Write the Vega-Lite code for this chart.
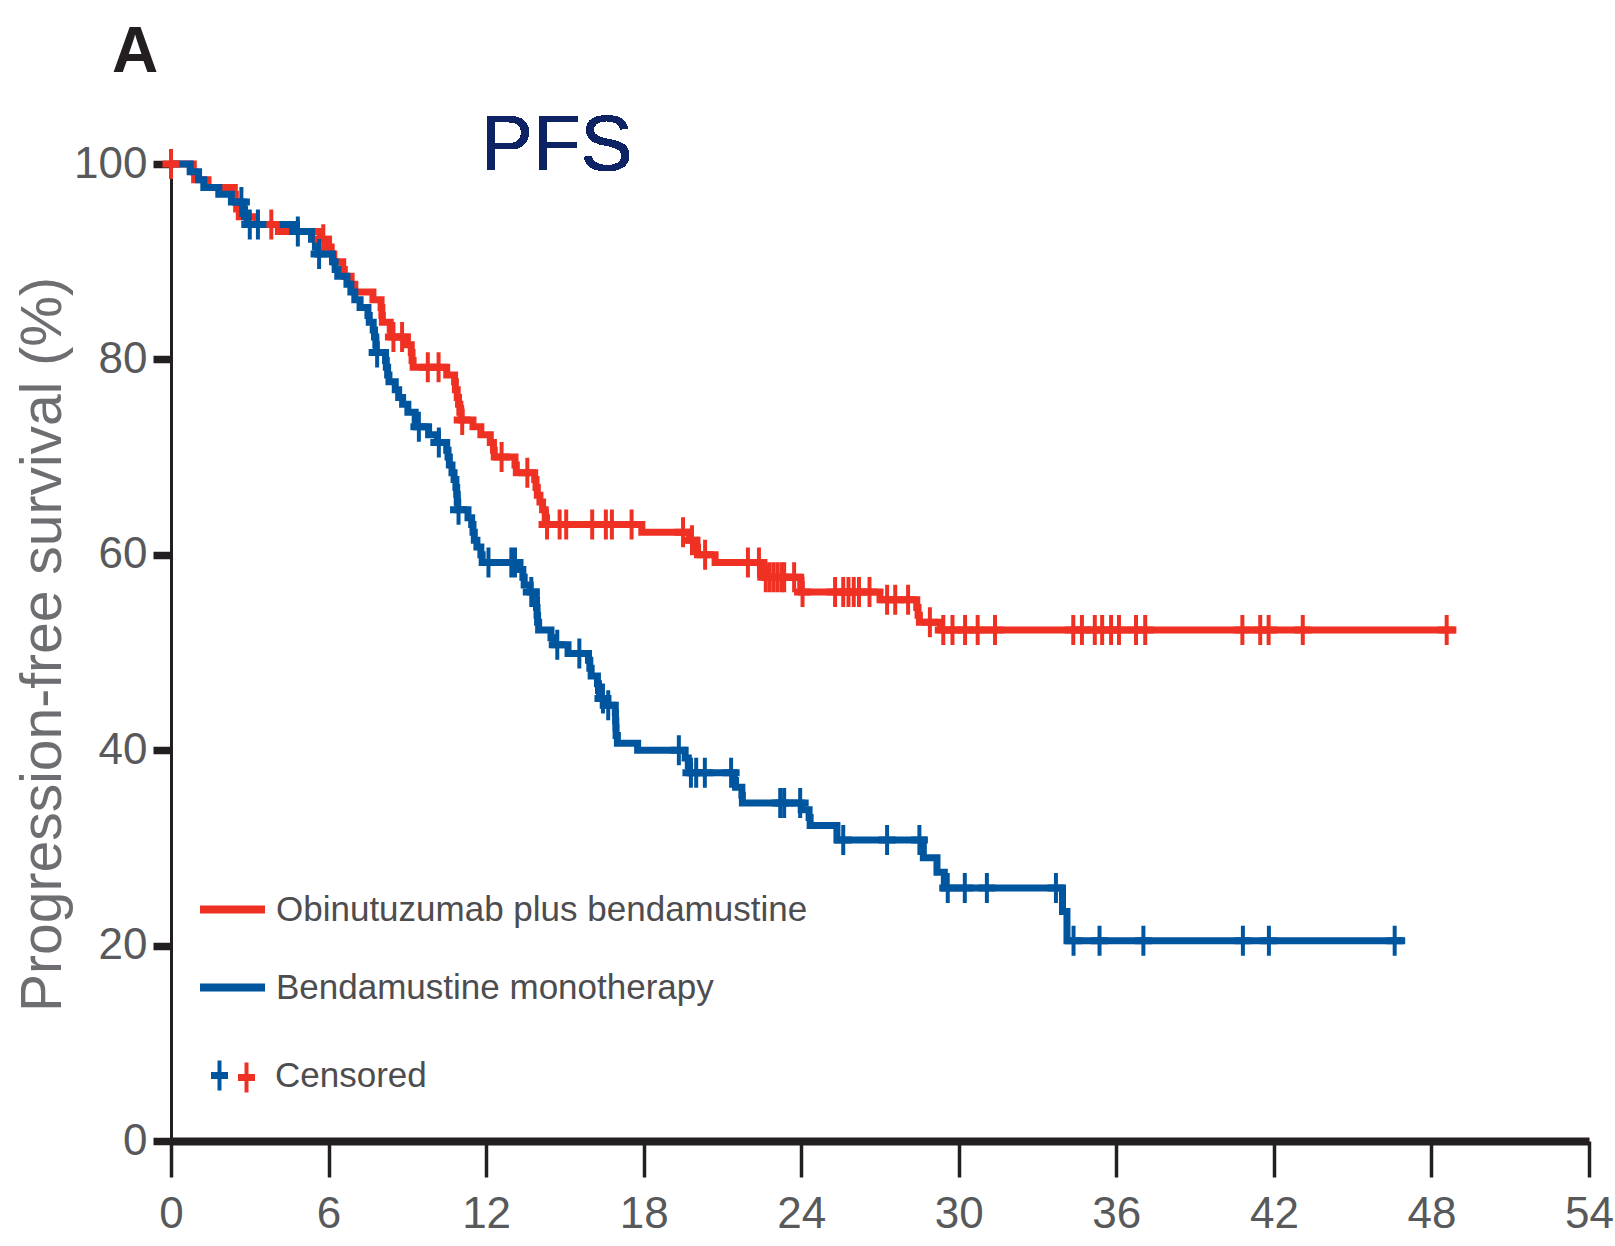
{
  "$schema": "https://vega.github.io/schema/vega-lite/v6.json",
  "width": 1418,
  "height": 977,
  "autosize": {"type": "none"},
  "padding": {"left": 171, "top": 164, "right": 26, "bottom": 105},
  "background": "white",
  "config": {"view": {"stroke": null}},
  "title": {
    "text": "A",
    "anchor": "start",
    "frame": "group",
    "dx": -59,
    "offset": 23,
    "font": "Liberation Sans, sans-serif",
    "fontSize": 64,
    "fontWeight": "bold",
    "color": "#231f20"
  },
  "data": {
    "values": [
      {"arm": "Obinutuzumab plus bendamustine", "kind": "step", "t": 0, "s": 100},
      {"arm": "Obinutuzumab plus bendamustine", "kind": "step", "t": 0.85, "s": 99.2},
      {"arm": "Obinutuzumab plus bendamustine", "kind": "step", "t": 0.9, "s": 98.4},
      {"arm": "Obinutuzumab plus bendamustine", "kind": "step", "t": 1.41, "s": 97.6},
      {"arm": "Obinutuzumab plus bendamustine", "kind": "step", "t": 2.41, "s": 96.9},
      {"arm": "Obinutuzumab plus bendamustine", "kind": "step", "t": 2.45, "s": 96.1},
      {"arm": "Obinutuzumab plus bendamustine", "kind": "step", "t": 2.5, "s": 95.4},
      {"arm": "Obinutuzumab plus bendamustine", "kind": "step", "t": 2.6, "s": 94.6},
      {"arm": "Obinutuzumab plus bendamustine", "kind": "step", "t": 3.24, "s": 93.8},
      {"arm": "Obinutuzumab plus bendamustine", "kind": "step", "t": 4.09, "s": 93.1},
      {"arm": "Obinutuzumab plus bendamustine", "kind": "step", "t": 5.7, "s": 92.3},
      {"arm": "Obinutuzumab plus bendamustine", "kind": "step", "t": 6.0, "s": 91.5},
      {"arm": "Obinutuzumab plus bendamustine", "kind": "step", "t": 6.1, "s": 90.8},
      {"arm": "Obinutuzumab plus bendamustine", "kind": "step", "t": 6.2, "s": 90.0},
      {"arm": "Obinutuzumab plus bendamustine", "kind": "step", "t": 6.54, "s": 89.2},
      {"arm": "Obinutuzumab plus bendamustine", "kind": "step", "t": 6.6, "s": 88.5},
      {"arm": "Obinutuzumab plus bendamustine", "kind": "step", "t": 6.86, "s": 87.7},
      {"arm": "Obinutuzumab plus bendamustine", "kind": "step", "t": 7.0, "s": 86.9},
      {"arm": "Obinutuzumab plus bendamustine", "kind": "step", "t": 7.69, "s": 86.1},
      {"arm": "Obinutuzumab plus bendamustine", "kind": "step", "t": 8.0, "s": 85.3},
      {"arm": "Obinutuzumab plus bendamustine", "kind": "step", "t": 8.03, "s": 84.5},
      {"arm": "Obinutuzumab plus bendamustine", "kind": "step", "t": 8.05, "s": 83.8},
      {"arm": "Obinutuzumab plus bendamustine", "kind": "step", "t": 8.35, "s": 83.0},
      {"arm": "Obinutuzumab plus bendamustine", "kind": "step", "t": 8.4, "s": 82.3},
      {"arm": "Obinutuzumab plus bendamustine", "kind": "step", "t": 9.0, "s": 81.5},
      {"arm": "Obinutuzumab plus bendamustine", "kind": "step", "t": 9.15, "s": 80.7},
      {"arm": "Obinutuzumab plus bendamustine", "kind": "step", "t": 9.18, "s": 79.9},
      {"arm": "Obinutuzumab plus bendamustine", "kind": "step", "t": 9.22, "s": 79.2},
      {"arm": "Obinutuzumab plus bendamustine", "kind": "step", "t": 10.5, "s": 78.4},
      {"arm": "Obinutuzumab plus bendamustine", "kind": "step", "t": 10.8, "s": 77.7},
      {"arm": "Obinutuzumab plus bendamustine", "kind": "step", "t": 10.83, "s": 76.9},
      {"arm": "Obinutuzumab plus bendamustine", "kind": "step", "t": 10.9, "s": 76.1},
      {"arm": "Obinutuzumab plus bendamustine", "kind": "step", "t": 10.95, "s": 75.4},
      {"arm": "Obinutuzumab plus bendamustine", "kind": "step", "t": 11.0, "s": 74.6},
      {"arm": "Obinutuzumab plus bendamustine", "kind": "step", "t": 11.05, "s": 73.8},
      {"arm": "Obinutuzumab plus bendamustine", "kind": "step", "t": 11.5, "s": 73.1},
      {"arm": "Obinutuzumab plus bendamustine", "kind": "step", "t": 11.8, "s": 72.3},
      {"arm": "Obinutuzumab plus bendamustine", "kind": "step", "t": 12.16, "s": 71.5},
      {"arm": "Obinutuzumab plus bendamustine", "kind": "step", "t": 12.28, "s": 70.7},
      {"arm": "Obinutuzumab plus bendamustine", "kind": "step", "t": 12.31, "s": 70.0},
      {"arm": "Obinutuzumab plus bendamustine", "kind": "step", "t": 13.1, "s": 69.2},
      {"arm": "Obinutuzumab plus bendamustine", "kind": "step", "t": 13.15, "s": 68.4},
      {"arm": "Obinutuzumab plus bendamustine", "kind": "step", "t": 13.85, "s": 67.7},
      {"arm": "Obinutuzumab plus bendamustine", "kind": "step", "t": 13.9, "s": 66.9},
      {"arm": "Obinutuzumab plus bendamustine", "kind": "step", "t": 13.95, "s": 66.1},
      {"arm": "Obinutuzumab plus bendamustine", "kind": "step", "t": 14.05, "s": 65.4},
      {"arm": "Obinutuzumab plus bendamustine", "kind": "step", "t": 14.15, "s": 64.6},
      {"arm": "Obinutuzumab plus bendamustine", "kind": "step", "t": 14.25, "s": 63.8},
      {"arm": "Obinutuzumab plus bendamustine", "kind": "step", "t": 14.3, "s": 63.1},
      {"arm": "Obinutuzumab plus bendamustine", "kind": "step", "t": 17.93, "s": 62.3},
      {"arm": "Obinutuzumab plus bendamustine", "kind": "step", "t": 19.75, "s": 61.5},
      {"arm": "Obinutuzumab plus bendamustine", "kind": "step", "t": 20.0, "s": 60.8},
      {"arm": "Obinutuzumab plus bendamustine", "kind": "step", "t": 20.05, "s": 60.0},
      {"arm": "Obinutuzumab plus bendamustine", "kind": "step", "t": 20.72, "s": 59.2},
      {"arm": "Obinutuzumab plus bendamustine", "kind": "step", "t": 22.55, "s": 58.5},
      {"arm": "Obinutuzumab plus bendamustine", "kind": "step", "t": 22.6, "s": 57.7},
      {"arm": "Obinutuzumab plus bendamustine", "kind": "step", "t": 23.98, "s": 56.9},
      {"arm": "Obinutuzumab plus bendamustine", "kind": "step", "t": 24.0, "s": 56.2},
      {"arm": "Obinutuzumab plus bendamustine", "kind": "step", "t": 27.0, "s": 55.4},
      {"arm": "Obinutuzumab plus bendamustine", "kind": "step", "t": 28.4, "s": 54.6},
      {"arm": "Obinutuzumab plus bendamustine", "kind": "step", "t": 28.45, "s": 53.8},
      {"arm": "Obinutuzumab plus bendamustine", "kind": "step", "t": 28.5, "s": 53.1},
      {"arm": "Obinutuzumab plus bendamustine", "kind": "step", "t": 29.3, "s": 52.3},
      {"arm": "Obinutuzumab plus bendamustine", "kind": "step", "t": 48.95, "s": 52.3},
      {"arm": "Bendamustine monotherapy", "kind": "step", "t": 0, "s": 100},
      {"arm": "Bendamustine monotherapy", "kind": "step", "t": 0.73, "s": 99.2},
      {"arm": "Bendamustine monotherapy", "kind": "step", "t": 1.05, "s": 98.4},
      {"arm": "Bendamustine monotherapy", "kind": "step", "t": 1.25, "s": 97.6},
      {"arm": "Bendamustine monotherapy", "kind": "step", "t": 1.82, "s": 96.9},
      {"arm": "Bendamustine monotherapy", "kind": "step", "t": 2.3, "s": 96.1},
      {"arm": "Bendamustine monotherapy", "kind": "step", "t": 2.75, "s": 95.4},
      {"arm": "Bendamustine monotherapy", "kind": "step", "t": 2.8, "s": 94.6},
      {"arm": "Bendamustine monotherapy", "kind": "step", "t": 2.9, "s": 93.8},
      {"arm": "Bendamustine monotherapy", "kind": "step", "t": 4.78, "s": 93.1},
      {"arm": "Bendamustine monotherapy", "kind": "step", "t": 5.35, "s": 92.3},
      {"arm": "Bendamustine monotherapy", "kind": "step", "t": 5.5, "s": 91.5},
      {"arm": "Bendamustine monotherapy", "kind": "step", "t": 5.6, "s": 90.8},
      {"arm": "Bendamustine monotherapy", "kind": "step", "t": 6.15, "s": 90.0},
      {"arm": "Bendamustine monotherapy", "kind": "step", "t": 6.25, "s": 89.2},
      {"arm": "Bendamustine monotherapy", "kind": "step", "t": 6.35, "s": 88.5},
      {"arm": "Bendamustine monotherapy", "kind": "step", "t": 6.7, "s": 87.7},
      {"arm": "Bendamustine monotherapy", "kind": "step", "t": 6.85, "s": 86.9},
      {"arm": "Bendamustine monotherapy", "kind": "step", "t": 7.0, "s": 86.1},
      {"arm": "Bendamustine monotherapy", "kind": "step", "t": 7.2, "s": 85.3},
      {"arm": "Bendamustine monotherapy", "kind": "step", "t": 7.5, "s": 84.5},
      {"arm": "Bendamustine monotherapy", "kind": "step", "t": 7.55, "s": 83.8},
      {"arm": "Bendamustine monotherapy", "kind": "step", "t": 7.7, "s": 83.0},
      {"arm": "Bendamustine monotherapy", "kind": "step", "t": 7.75, "s": 82.3},
      {"arm": "Bendamustine monotherapy", "kind": "step", "t": 7.8, "s": 81.5},
      {"arm": "Bendamustine monotherapy", "kind": "step", "t": 7.82, "s": 80.7},
      {"arm": "Bendamustine monotherapy", "kind": "step", "t": 8.17, "s": 79.9},
      {"arm": "Bendamustine monotherapy", "kind": "step", "t": 8.2, "s": 79.2},
      {"arm": "Bendamustine monotherapy", "kind": "step", "t": 8.25, "s": 78.4},
      {"arm": "Bendamustine monotherapy", "kind": "step", "t": 8.3, "s": 77.7},
      {"arm": "Bendamustine monotherapy", "kind": "step", "t": 8.54, "s": 76.9},
      {"arm": "Bendamustine monotherapy", "kind": "step", "t": 8.67, "s": 76.1},
      {"arm": "Bendamustine monotherapy", "kind": "step", "t": 8.82, "s": 75.4},
      {"arm": "Bendamustine monotherapy", "kind": "step", "t": 9.02, "s": 74.6},
      {"arm": "Bendamustine monotherapy", "kind": "step", "t": 9.3, "s": 73.8},
      {"arm": "Bendamustine monotherapy", "kind": "step", "t": 9.35, "s": 73.1},
      {"arm": "Bendamustine monotherapy", "kind": "step", "t": 9.81, "s": 72.3},
      {"arm": "Bendamustine monotherapy", "kind": "step", "t": 10.15, "s": 71.5},
      {"arm": "Bendamustine monotherapy", "kind": "step", "t": 10.5, "s": 70.7},
      {"arm": "Bendamustine monotherapy", "kind": "step", "t": 10.55, "s": 70.0},
      {"arm": "Bendamustine monotherapy", "kind": "step", "t": 10.6, "s": 69.2},
      {"arm": "Bendamustine monotherapy", "kind": "step", "t": 10.7, "s": 68.4},
      {"arm": "Bendamustine monotherapy", "kind": "step", "t": 10.78, "s": 67.7},
      {"arm": "Bendamustine monotherapy", "kind": "step", "t": 10.85, "s": 66.9},
      {"arm": "Bendamustine monotherapy", "kind": "step", "t": 10.88, "s": 66.2},
      {"arm": "Bendamustine monotherapy", "kind": "step", "t": 10.9, "s": 65.4},
      {"arm": "Bendamustine monotherapy", "kind": "step", "t": 10.92, "s": 64.6},
      {"arm": "Bendamustine monotherapy", "kind": "step", "t": 11.31, "s": 63.8},
      {"arm": "Bendamustine monotherapy", "kind": "step", "t": 11.45, "s": 63.1},
      {"arm": "Bendamustine monotherapy", "kind": "step", "t": 11.5, "s": 62.3},
      {"arm": "Bendamustine monotherapy", "kind": "step", "t": 11.55, "s": 61.5},
      {"arm": "Bendamustine monotherapy", "kind": "step", "t": 11.65, "s": 60.8},
      {"arm": "Bendamustine monotherapy", "kind": "step", "t": 11.8, "s": 60.0},
      {"arm": "Bendamustine monotherapy", "kind": "step", "t": 11.85, "s": 59.2},
      {"arm": "Bendamustine monotherapy", "kind": "step", "t": 13.14, "s": 58.5},
      {"arm": "Bendamustine monotherapy", "kind": "step", "t": 13.4, "s": 57.7},
      {"arm": "Bendamustine monotherapy", "kind": "step", "t": 13.45, "s": 56.9},
      {"arm": "Bendamustine monotherapy", "kind": "step", "t": 13.68, "s": 56.2},
      {"arm": "Bendamustine monotherapy", "kind": "step", "t": 13.9, "s": 55.4},
      {"arm": "Bendamustine monotherapy", "kind": "step", "t": 13.92, "s": 54.6},
      {"arm": "Bendamustine monotherapy", "kind": "step", "t": 13.94, "s": 53.8},
      {"arm": "Bendamustine monotherapy", "kind": "step", "t": 13.96, "s": 53.1},
      {"arm": "Bendamustine monotherapy", "kind": "step", "t": 14.0, "s": 52.3},
      {"arm": "Bendamustine monotherapy", "kind": "step", "t": 14.47, "s": 51.5},
      {"arm": "Bendamustine monotherapy", "kind": "step", "t": 14.6, "s": 50.8},
      {"arm": "Bendamustine monotherapy", "kind": "step", "t": 15.12, "s": 49.9},
      {"arm": "Bendamustine monotherapy", "kind": "step", "t": 15.9, "s": 49.2},
      {"arm": "Bendamustine monotherapy", "kind": "step", "t": 15.95, "s": 48.4},
      {"arm": "Bendamustine monotherapy", "kind": "step", "t": 16.0, "s": 47.6},
      {"arm": "Bendamustine monotherapy", "kind": "step", "t": 16.24, "s": 46.8},
      {"arm": "Bendamustine monotherapy", "kind": "step", "t": 16.28, "s": 46.1},
      {"arm": "Bendamustine monotherapy", "kind": "step", "t": 16.32, "s": 45.3},
      {"arm": "Bendamustine monotherapy", "kind": "step", "t": 16.6, "s": 44.6},
      {"arm": "Bendamustine monotherapy", "kind": "step", "t": 16.92, "s": 43.8},
      {"arm": "Bendamustine monotherapy", "kind": "step", "t": 16.93, "s": 43.0},
      {"arm": "Bendamustine monotherapy", "kind": "step", "t": 16.94, "s": 42.3},
      {"arm": "Bendamustine monotherapy", "kind": "step", "t": 16.95, "s": 41.5},
      {"arm": "Bendamustine monotherapy", "kind": "step", "t": 17.0, "s": 40.7},
      {"arm": "Bendamustine monotherapy", "kind": "step", "t": 17.77, "s": 40.0},
      {"arm": "Bendamustine monotherapy", "kind": "step", "t": 19.58, "s": 39.2},
      {"arm": "Bendamustine monotherapy", "kind": "step", "t": 19.7, "s": 38.4},
      {"arm": "Bendamustine monotherapy", "kind": "step", "t": 19.75, "s": 37.7},
      {"arm": "Bendamustine monotherapy", "kind": "step", "t": 21.45, "s": 36.9},
      {"arm": "Bendamustine monotherapy", "kind": "step", "t": 21.5, "s": 36.2},
      {"arm": "Bendamustine monotherapy", "kind": "step", "t": 21.74, "s": 35.4},
      {"arm": "Bendamustine monotherapy", "kind": "step", "t": 21.76, "s": 34.6},
      {"arm": "Bendamustine monotherapy", "kind": "step", "t": 24.0, "s": 33.9},
      {"arm": "Bendamustine monotherapy", "kind": "step", "t": 24.3, "s": 33.1},
      {"arm": "Bendamustine monotherapy", "kind": "step", "t": 24.34, "s": 32.3},
      {"arm": "Bendamustine monotherapy", "kind": "step", "t": 25.36, "s": 30.8},
      {"arm": "Bendamustine monotherapy", "kind": "step", "t": 28.65, "s": 29.0},
      {"arm": "Bendamustine monotherapy", "kind": "step", "t": 29.17, "s": 27.5},
      {"arm": "Bendamustine monotherapy", "kind": "step", "t": 29.45, "s": 25.9},
      {"arm": "Bendamustine monotherapy", "kind": "step", "t": 33.95, "s": 23.5},
      {"arm": "Bendamustine monotherapy", "kind": "step", "t": 34.12, "s": 20.5},
      {"arm": "Bendamustine monotherapy", "kind": "step", "t": 47.0, "s": 20.5},
      {"arm": "Obinutuzumab plus bendamustine", "kind": "censor", "t": 0, "s": 100},
      {"arm": "Obinutuzumab plus bendamustine", "kind": "censor", "t": 3.82, "s": 93.8},
      {"arm": "Obinutuzumab plus bendamustine", "kind": "censor", "t": 5.8, "s": 92.3},
      {"arm": "Obinutuzumab plus bendamustine", "kind": "censor", "t": 8.47, "s": 82.3},
      {"arm": "Obinutuzumab plus bendamustine", "kind": "censor", "t": 8.8, "s": 82.3},
      {"arm": "Obinutuzumab plus bendamustine", "kind": "censor", "t": 9.78, "s": 79.2},
      {"arm": "Obinutuzumab plus bendamustine", "kind": "censor", "t": 10.19, "s": 79.2},
      {"arm": "Obinutuzumab plus bendamustine", "kind": "censor", "t": 11.09, "s": 73.8},
      {"arm": "Obinutuzumab plus bendamustine", "kind": "censor", "t": 12.59, "s": 70.0},
      {"arm": "Obinutuzumab plus bendamustine", "kind": "censor", "t": 13.57, "s": 68.4},
      {"arm": "Obinutuzumab plus bendamustine", "kind": "censor", "t": 14.32, "s": 63.1},
      {"arm": "Obinutuzumab plus bendamustine", "kind": "censor", "t": 14.8, "s": 63.1},
      {"arm": "Obinutuzumab plus bendamustine", "kind": "censor", "t": 15.05, "s": 63.1},
      {"arm": "Obinutuzumab plus bendamustine", "kind": "censor", "t": 16.04, "s": 63.1},
      {"arm": "Obinutuzumab plus bendamustine", "kind": "censor", "t": 16.56, "s": 63.1},
      {"arm": "Obinutuzumab plus bendamustine", "kind": "censor", "t": 16.79, "s": 63.1},
      {"arm": "Obinutuzumab plus bendamustine", "kind": "censor", "t": 17.54, "s": 63.1},
      {"arm": "Obinutuzumab plus bendamustine", "kind": "censor", "t": 19.5, "s": 62.3},
      {"arm": "Obinutuzumab plus bendamustine", "kind": "censor", "t": 19.84, "s": 61.5},
      {"arm": "Obinutuzumab plus bendamustine", "kind": "censor", "t": 20.34, "s": 60.0},
      {"arm": "Obinutuzumab plus bendamustine", "kind": "censor", "t": 21.97, "s": 59.2},
      {"arm": "Obinutuzumab plus bendamustine", "kind": "censor", "t": 22.39, "s": 59.2},
      {"arm": "Obinutuzumab plus bendamustine", "kind": "censor", "t": 22.65, "s": 57.7},
      {"arm": "Obinutuzumab plus bendamustine", "kind": "censor", "t": 22.8, "s": 57.7},
      {"arm": "Obinutuzumab plus bendamustine", "kind": "censor", "t": 22.95, "s": 57.7},
      {"arm": "Obinutuzumab plus bendamustine", "kind": "censor", "t": 23.1, "s": 57.7},
      {"arm": "Obinutuzumab plus bendamustine", "kind": "censor", "t": 23.25, "s": 57.7},
      {"arm": "Obinutuzumab plus bendamustine", "kind": "censor", "t": 23.35, "s": 57.7},
      {"arm": "Obinutuzumab plus bendamustine", "kind": "censor", "t": 23.73, "s": 57.7},
      {"arm": "Obinutuzumab plus bendamustine", "kind": "censor", "t": 24.05, "s": 56.2},
      {"arm": "Obinutuzumab plus bendamustine", "kind": "censor", "t": 25.29, "s": 56.2},
      {"arm": "Obinutuzumab plus bendamustine", "kind": "censor", "t": 25.6, "s": 56.2},
      {"arm": "Obinutuzumab plus bendamustine", "kind": "censor", "t": 25.8, "s": 56.2},
      {"arm": "Obinutuzumab plus bendamustine", "kind": "censor", "t": 26.0, "s": 56.2},
      {"arm": "Obinutuzumab plus bendamustine", "kind": "censor", "t": 26.2, "s": 56.2},
      {"arm": "Obinutuzumab plus bendamustine", "kind": "censor", "t": 26.6, "s": 56.2},
      {"arm": "Obinutuzumab plus bendamustine", "kind": "censor", "t": 27.27, "s": 55.4},
      {"arm": "Obinutuzumab plus bendamustine", "kind": "censor", "t": 27.58, "s": 55.4},
      {"arm": "Obinutuzumab plus bendamustine", "kind": "censor", "t": 28.07, "s": 55.4},
      {"arm": "Obinutuzumab plus bendamustine", "kind": "censor", "t": 28.9, "s": 53.1},
      {"arm": "Obinutuzumab plus bendamustine", "kind": "censor", "t": 29.41, "s": 52.3},
      {"arm": "Obinutuzumab plus bendamustine", "kind": "censor", "t": 29.76, "s": 52.3},
      {"arm": "Obinutuzumab plus bendamustine", "kind": "censor", "t": 30.24, "s": 52.3},
      {"arm": "Obinutuzumab plus bendamustine", "kind": "censor", "t": 30.72, "s": 52.3},
      {"arm": "Obinutuzumab plus bendamustine", "kind": "censor", "t": 31.38, "s": 52.3},
      {"arm": "Obinutuzumab plus bendamustine", "kind": "censor", "t": 34.36, "s": 52.3},
      {"arm": "Obinutuzumab plus bendamustine", "kind": "censor", "t": 34.69, "s": 52.3},
      {"arm": "Obinutuzumab plus bendamustine", "kind": "censor", "t": 35.18, "s": 52.3},
      {"arm": "Obinutuzumab plus bendamustine", "kind": "censor", "t": 35.46, "s": 52.3},
      {"arm": "Obinutuzumab plus bendamustine", "kind": "censor", "t": 35.8, "s": 52.3},
      {"arm": "Obinutuzumab plus bendamustine", "kind": "censor", "t": 36.1, "s": 52.3},
      {"arm": "Obinutuzumab plus bendamustine", "kind": "censor", "t": 36.75, "s": 52.3},
      {"arm": "Obinutuzumab plus bendamustine", "kind": "censor", "t": 37.1, "s": 52.3},
      {"arm": "Obinutuzumab plus bendamustine", "kind": "censor", "t": 40.8, "s": 52.3},
      {"arm": "Obinutuzumab plus bendamustine", "kind": "censor", "t": 41.48, "s": 52.3},
      {"arm": "Obinutuzumab plus bendamustine", "kind": "censor", "t": 41.8, "s": 52.3},
      {"arm": "Obinutuzumab plus bendamustine", "kind": "censor", "t": 43.1, "s": 52.3},
      {"arm": "Obinutuzumab plus bendamustine", "kind": "censor", "t": 48.58, "s": 52.3},
      {"arm": "Bendamustine monotherapy", "kind": "censor", "t": 2.68, "s": 96.1},
      {"arm": "Bendamustine monotherapy", "kind": "censor", "t": 3.0, "s": 93.8},
      {"arm": "Bendamustine monotherapy", "kind": "censor", "t": 3.31, "s": 93.8},
      {"arm": "Bendamustine monotherapy", "kind": "censor", "t": 4.83, "s": 93.1},
      {"arm": "Bendamustine monotherapy", "kind": "censor", "t": 5.64, "s": 90.8},
      {"arm": "Bendamustine monotherapy", "kind": "censor", "t": 7.85, "s": 80.7},
      {"arm": "Bendamustine monotherapy", "kind": "censor", "t": 9.44, "s": 73.1},
      {"arm": "Bendamustine monotherapy", "kind": "censor", "t": 10.2, "s": 71.5},
      {"arm": "Bendamustine monotherapy", "kind": "censor", "t": 10.95, "s": 64.6},
      {"arm": "Bendamustine monotherapy", "kind": "censor", "t": 12.09, "s": 59.2},
      {"arm": "Bendamustine monotherapy", "kind": "censor", "t": 12.96, "s": 59.2},
      {"arm": "Bendamustine monotherapy", "kind": "censor", "t": 13.1, "s": 59.2},
      {"arm": "Bendamustine monotherapy", "kind": "censor", "t": 13.72, "s": 56.2},
      {"arm": "Bendamustine monotherapy", "kind": "censor", "t": 14.71, "s": 50.8},
      {"arm": "Bendamustine monotherapy", "kind": "censor", "t": 15.55, "s": 49.9},
      {"arm": "Bendamustine monotherapy", "kind": "censor", "t": 16.45, "s": 45.3},
      {"arm": "Bendamustine monotherapy", "kind": "censor", "t": 16.65, "s": 44.6},
      {"arm": "Bendamustine monotherapy", "kind": "censor", "t": 19.34, "s": 40.0},
      {"arm": "Bendamustine monotherapy", "kind": "censor", "t": 19.8, "s": 37.7},
      {"arm": "Bendamustine monotherapy", "kind": "censor", "t": 20.0, "s": 37.7},
      {"arm": "Bendamustine monotherapy", "kind": "censor", "t": 20.33, "s": 37.7},
      {"arm": "Bendamustine monotherapy", "kind": "censor", "t": 21.33, "s": 37.7},
      {"arm": "Bendamustine monotherapy", "kind": "censor", "t": 23.2, "s": 34.6},
      {"arm": "Bendamustine monotherapy", "kind": "censor", "t": 23.35, "s": 34.6},
      {"arm": "Bendamustine monotherapy", "kind": "censor", "t": 23.96, "s": 34.6},
      {"arm": "Bendamustine monotherapy", "kind": "censor", "t": 25.6, "s": 30.8},
      {"arm": "Bendamustine monotherapy", "kind": "censor", "t": 27.27, "s": 30.8},
      {"arm": "Bendamustine monotherapy", "kind": "censor", "t": 28.5, "s": 30.8},
      {"arm": "Bendamustine monotherapy", "kind": "censor", "t": 29.58, "s": 25.9},
      {"arm": "Bendamustine monotherapy", "kind": "censor", "t": 30.23, "s": 25.9},
      {"arm": "Bendamustine monotherapy", "kind": "censor", "t": 31.07, "s": 25.9},
      {"arm": "Bendamustine monotherapy", "kind": "censor", "t": 33.7, "s": 25.9},
      {"arm": "Bendamustine monotherapy", "kind": "censor", "t": 34.37, "s": 20.5},
      {"arm": "Bendamustine monotherapy", "kind": "censor", "t": 35.36, "s": 20.5},
      {"arm": "Bendamustine monotherapy", "kind": "censor", "t": 37.03, "s": 20.5},
      {"arm": "Bendamustine monotherapy", "kind": "censor", "t": 40.82, "s": 20.5},
      {"arm": "Bendamustine monotherapy", "kind": "censor", "t": 41.81, "s": 20.5},
      {"arm": "Bendamustine monotherapy", "kind": "censor", "t": 46.6, "s": 20.5}
    ]
  },
  "layer": [
    {
      "transform": [{"filter": "datum.kind === 'step'"}],
      "mark": {"type": "line", "interpolate": "step-after", "strokeWidth": 7},
      "encoding": {
        "x": {
          "field": "t",
          "type": "quantitative",
          "scale": {"domain": [0, 54], "nice": false, "zero": false},
          "axis": {
            "values": [0, 6, 12, 18, 24, 30, 36, 42, 48, 54],
            "title": null,
            "grid": false,
            "domainWidth": 8,
            "domainColor": "#231f20",
            "domainCap": "butt",
            "tickColor": "#231f20",
            "tickWidth": 3.5,
            "tickSize": 36,
            "labelFont": "Liberation Sans, sans-serif",
            "labelFontSize": 44,
            "labelColor": "#58595b",
            "labelPadding": 15,
            "labelFlush": false,
            "labelOverlap": false
          }
        },
        "y": {
          "field": "s",
          "type": "quantitative",
          "scale": {"domain": [0, 100], "nice": false},
          "axis": {
            "values": [0, 20, 40, 60, 80, 100],
            "title": "Progression-free survival (%)",
            "titleFont": "Liberation Sans, sans-serif",
            "titleFontSize": 57,
            "titleFontWeight": "normal",
            "titleColor": "#6d6e71",
            "titleAngle": -90,
            "titleX": -128,
            "titleY": 480,
            "titleAlign": "center",
            "titleBaseline": "middle",
            "grid": false,
            "domainWidth": 3,
            "domainColor": "#231f20",
            "tickColor": "#231f20",
            "tickWidth": 7.5,
            "tickSize": 18,
            "labelFont": "Liberation Sans, sans-serif",
            "labelFontSize": 44,
            "labelColor": "#58595b",
            "labelPadding": 6,
            "labelFlush": false,
            "labelOverlap": false
          }
        },
        "color": {
          "field": "arm",
          "type": "nominal",
          "scale": {
            "domain": ["Obinutuzumab plus bendamustine", "Bendamustine monotherapy"],
            "range": ["#ef3124", "#00559f"]
          },
          "legend": {
            "orient": "none",
            "legendX": 25,
            "legendY": 709,
            "title": null,
            "padding": 0,
            "direction": "vertical",
            "symbolType": "stroke",
            "symbolSize": 4225,
            "symbolStrokeWidth": 8,
            "labelFont": "Liberation Sans, sans-serif",
            "labelFontSize": 35,
            "labelColor": "#4d4d4f",
            "labelOffset": 7,
            "labelLimit": 1000,
            "rowPadding": 23
          }
        }
      }
    },
    {
      "transform": [{"filter": "datum.kind === 'censor' && datum.arm === 'Obinutuzumab plus bendamustine'"}],
      "mark": {
        "type": "point",
        "filled": true,
        "shape": "M-0.133,-1H0.133V-0.233H0.567V0.233H0.133V1H-0.133V0.233H-0.567V-0.233H-0.133Z",
        "size": 900,
        "color": "#ef3124",
        "opacity": 1,
        "strokeWidth": 0
      },
      "encoding": {
        "x": {"field": "t", "type": "quantitative"},
        "y": {"field": "s", "type": "quantitative"},
        "strokeDash": {
          "datum": "Censored (red)",
          "scale": {"range": [[1, 0]]},
          "legend": {
            "orient": "none",
            "legendX": 58,
            "legendY": 896,
            "title": null,
            "padding": 0,
            "symbolType": "M-0.133,-1H0.133V-0.233H0.567V0.233H0.133V1H-0.133V0.233H-0.567V-0.233H-0.133Z",
            "symbolSize": 900,
            "symbolFillColor": "#ef3124",
            "symbolStrokeWidth": 0,
            "labelExpr": "''",
            "labelFont": "Liberation Sans, sans-serif",
            "labelFontSize": 35,
            "labelOffset": 2,
            "labelLimit": 1000
          }
        }
      }
    },
    {
      "transform": [{"filter": "datum.kind === 'censor' && datum.arm === 'Bendamustine monotherapy'"}],
      "mark": {
        "type": "point",
        "filled": true,
        "size": 900,
        "color": "#00559f",
        "opacity": 1,
        "strokeWidth": 0
      },
      "encoding": {
        "x": {"field": "t", "type": "quantitative"},
        "y": {"field": "s", "type": "quantitative"},
        "shape": {
          "datum": "Censored",
          "scale": {"range": ["M-0.133,-1H0.133V-0.233H0.567V0.233H0.133V1H-0.133V0.233H-0.567V-0.233H-0.133Z"]},
          "legend": {
            "orient": "none",
            "legendX": 31,
            "legendY": 894,
            "title": null,
            "padding": 0,
            "symbolSize": 900,
            "symbolFillColor": "#00559f",
            "symbolStrokeWidth": 0,
            "labelFont": "Liberation Sans, sans-serif",
            "labelFontSize": 35,
            "labelColor": "#4d4d4f",
            "labelOffset": 38,
            "labelLimit": 1000
          }
        }
      }
    },
    {
      "mark": {
        "type": "text",
        "text": "PFS",
        "font": "Liberation Sans, Arial, sans-serif",
        "fontSize": 78,
        "color": "#0d2364",
        "align": "left",
        "baseline": "alphabetic"
      },
      "encoding": {
        "x": {"datum": 11.8, "type": "quantitative"},
        "y": {"datum": 99.4, "type": "quantitative"}
      }
    }
  ]
}
